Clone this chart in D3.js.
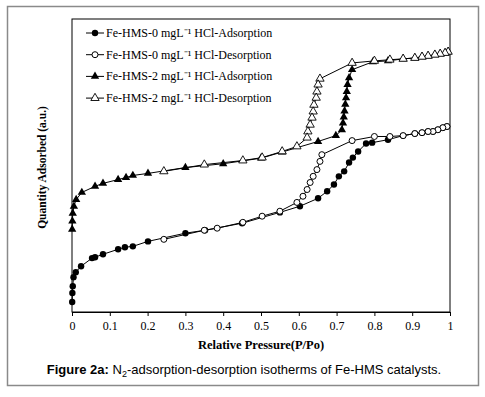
<!DOCTYPE html>
<html><head><meta charset="utf-8">
<script src="https://cdn.jsdelivr.net/npm/d3@7"></script>
<style>body{margin:0;background:#fff}svg{display:block}</style>
</head><body>
<svg id="c" width="485" height="397"></svg>
<script>
// P/Po, quantity adsorbed (a.u.)
const ads0 = [[0.0005,3.4],[0.001,6.5],[0.002,8.8],[0.004,11.9],[0.01,13.6],[0.024,15.6],[0.053,18.4],[0.061,18.7],[0.082,19.7],[0.122,21.4],[0.14,22.1],[0.161,22.4],[0.201,24.1],[0.30,26.9],[0.352,27.9],[0.45,30.3],[0.55,34.0],[0.603,36.1],[0.651,38.8],[0.675,41.2],[0.693,43.5],[0.706,46.3],[0.72,48.0],[0.733,51.0],[0.743,52.7],[0.757,54.8],[0.778,57.5],[0.794,57.8],[0.836,58.8],[0.876,60.2],[0.907,60.9],[0.926,61.2],[0.942,61.6],[0.955,61.6],[0.968,62.2],[0.981,62.9],[0.992,63.3]];
const des0 = [[0.992,63.3],[0.981,62.9],[0.968,62.2],[0.955,61.6],[0.942,61.6],[0.926,61.2],[0.907,60.9],[0.876,60.2],[0.841,59.9],[0.80,59.9],[0.741,58.5],[0.661,53.7],[0.656,51.4],[0.648,48.6],[0.638,46.3],[0.63,44.2],[0.622,41.8],[0.611,39.5],[0.595,37.4],[0.55,34.4],[0.503,32.7],[0.452,30.6],[0.384,28.6],[0.35,27.9],[0.243,24.8]];
const ads2 = [[0.0005,28.2],[0.001,31.0],[0.002,33.7],[0.005,36.1],[0.011,38.4],[0.026,40.8],[0.061,42.9],[0.082,43.9],[0.122,45.2],[0.143,45.9],[0.161,46.6],[0.201,47.3],[0.30,49.3],[0.40,50.6],[0.50,52.5],[0.556,54.6],[0.651,58.2],[0.698,60.2],[0.714,62.2],[0.717,64.5],[0.719,66.5],[0.721,68.6],[0.723,70.9],[0.725,73.1],[0.727,75.2],[0.729,77.6],[0.733,79.9],[0.741,82.7],[0.796,85.4],[0.836,85.7],[0.876,86.4],[0.907,86.7],[0.926,87.1],[0.942,87.4],[0.96,87.8],[0.974,88.1],[0.987,88.4],[0.995,88.8]];
const des2 = [[0.995,88.8],[0.987,88.4],[0.974,88.1],[0.96,87.8],[0.942,87.4],[0.926,87.1],[0.907,86.7],[0.876,86.4],[0.841,86.1],[0.80,85.7],[0.741,85.0],[0.656,79.6],[0.651,77.6],[0.648,75.2],[0.646,73.1],[0.640,70.7],[0.638,68.4],[0.635,66.3],[0.630,63.9],[0.624,61.6],[0.622,59.5],[0.595,56.5],[0.556,54.8],[0.503,52.7],[0.452,51.7],[0.35,50.3],[0.243,48.0]];
const seriesNames = ["Fe-HMS-0 mgL\u207B\u00B9 HCl-Adsorption","Fe-HMS-0 mgL\u207B\u00B9 HCl-Desorption","Fe-HMS-2 mgL\u207B\u00B9 HCl-Adsorption","Fe-HMS-2 mgL\u207B\u00B9 HCl-Desorption"];
const xTicks = [0,0.1,0.2,0.3,0.4,0.5,0.6,0.7,0.8,0.9,1];
const xLabel = "Relative Pressure(P/Po)";
const yLabel = "Quantity Adsorbed (a.u.)";
const captionBold = "Figure 2a:";

const svg = d3.select("#c");
const L=72,R=450,T=19,B=312;
const x = d3.scaleLinear().domain([0,1]).range([L,R]);
const y = d3.scaleLinear().domain([0,100]).range([B,T]);

svg.append("rect").attr("x",7.5).attr("y",6.5).attr("width",471).attr("height",379)
  .attr("fill","none").attr("stroke","#8a8a8a").attr("stroke-width",1.5);
svg.append("rect").attr("x",L).attr("y",T).attr("width",R-L).attr("height",B-T)
  .attr("fill","none").attr("stroke","#000").attr("stroke-width",1);

const xa = svg.append("g").attr("transform",`translate(0,${B})`)
  .call(d3.axisBottom(x).tickValues(xTicks).tickSize(4).tickSizeOuter(0).tickFormat(d=>d3.format("")(d)));
xa.select(".domain").attr("stroke","#000");
xa.selectAll("text").attr("font-family","Liberation Serif").attr("font-size",12).attr("dy","0.95em").attr("fill","#000");

svg.append("text").attr("x",(L+R)/2).attr("y",349).attr("text-anchor","middle")
  .attr("font-family","Liberation Serif").attr("font-weight","bold").attr("font-size",12.5).text(xLabel);
svg.append("text").attr("transform",`translate(46,${(T+B)/2+2}) rotate(-90)`).attr("text-anchor","middle")
  .attr("font-family","Liberation Serif").attr("font-weight","bold").attr("font-size",11.5).text(yLabel);

const cap = svg.append("text").attr("x",244).attr("y",374).attr("text-anchor","middle")
  .attr("font-family","Liberation Sans").attr("font-size",13);
cap.append("tspan").attr("font-weight","bold").text(captionBold+" ");
cap.append("tspan").text("N");
cap.append("tspan").attr("font-size",9).attr("dy",3).text("2");
cap.append("tspan").attr("dy",-3).text("-adsorption-desorption isotherms of Fe-HMS catalysts.");

const line = d3.line().x(d=>x(d[0])).y(d=>y(d[1])).curve(d3.curveLinear);
const all = [ads0,des0,ads2,des2];
all.forEach(s=>svg.append("path").attr("d",line(s)).attr("fill","none").attr("stroke","#000").attr("stroke-width",1));

const tri = d3.symbol().type(d3.symbolTriangle).size(30);
function marker(g,type){
  if(type===0) g.append("circle").attr("r",3.2).attr("fill","#000");
  else if(type===1) g.append("circle").attr("r",3).attr("fill","#fff").attr("stroke","#000").attr("stroke-width",1);
  else if(type===2) g.append("path").attr("d",tri()).attr("fill","#000");
  else g.append("path").attr("d",tri()).attr("fill","#fff").attr("stroke","#000").attr("stroke-width",0.9);
}
all.forEach((s,i)=>{
  s.forEach(d=>{
    const g = svg.append("g").attr("transform",`translate(${x(d[0])},${y(d[1])})`);
    marker(g,i);
  });
});

// legend
seriesNames.forEach((n,i)=>{
  const yy = 33 + i*21.7;
  svg.append("line").attr("x1",86).attr("x2",104).attr("y1",yy).attr("y2",yy).attr("stroke","#000");
  const g = svg.append("g").attr("transform",`translate(95,${yy})`);
  marker(g,i);
  svg.append("text").attr("x",106).attr("y",yy+4).attr("font-family","Liberation Serif").attr("font-size",12).text(n);
});
</script>
</body></html>
